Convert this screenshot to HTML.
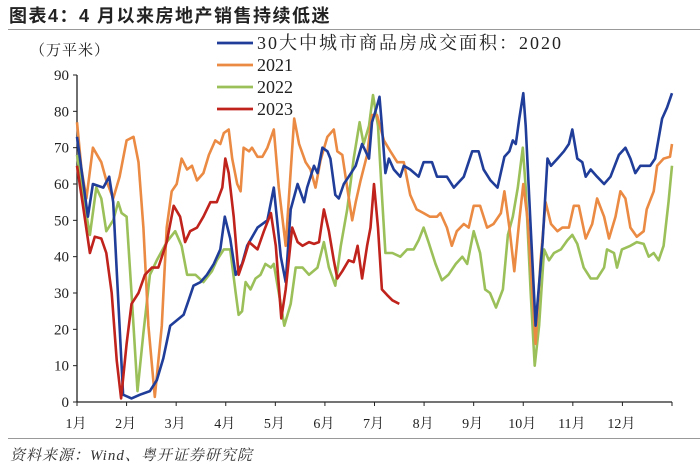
<!DOCTYPE html>
<html><head><meta charset="utf-8"><style>
body{margin:0;background:#fff;}
svg{display:block;}
</style></head><body>
<svg id="chart" width="700" height="472" viewBox="0 0 700 472" xmlns="http://www.w3.org/2000/svg" font-family="'Liberation Serif','Noto Serif CJK SC',serif">
<text x="9" y="22" font-size="18" font-weight="bold" letter-spacing="1.5" font-family="'Liberation Sans','Noto Sans CJK SC',sans-serif" fill="#222">图表4：4 月以来房地产销售持续低迷</text>
<line x1="8" y1="29.5" x2="700" y2="29.5" stroke="#999" stroke-width="1"/>
<text x="30" y="55" font-size="15" letter-spacing="1" fill="#222" font-family="'Liberation Serif','Noto Serif CJK SC',serif">（万平米）</text>
<g id="axes"></g>
<g id="series"></g>
<g id="legend"></g>
<line x1="8" y1="438.5" x2="700" y2="438.5" stroke="#999" stroke-width="1"/>
<text x="10" y="460" font-size="15" letter-spacing="1" font-style="italic" fill="#333" font-family="'Liberation Serif','Noto Serif CJK SC',serif">资料来源：Wind、粤开证券研究院</text>
</svg>
<script>
const yTicks=[0,10,20,30,40,50,60,70,80,90];
const monthLabels=["1月","2月","3月","4月","5月","6月","7月","8月","9月","10月","11月","12月"];
const seriesNames=["30大中城市商品房成交面积：2020","2021","2022","2023"];
const seriesColors=["#1f3d99","#ea8a43","#9bc05a","#c0221c"];
const t2020=[0,0.22,0.32,0.53,0.65,0.73,0.93,1.1,1.27,1.47,1.61,1.74,1.88,2.15,2.25,2.35,2.49,2.62,2.76,2.89,2.98,3.09,3.2,3.33,3.43,3.64,3.84,3.97,4.11,4.21,4.31,4.45,4.58,4.64,4.78,4.85,4.95,5.05,5.11,5.21,5.28,5.38,5.48,5.62,5.75,5.82,5.89,5.95,6.04,6.1,6.15,6.22,6.29,6.39,6.52,6.59,6.72,6.89,6.99,7.16,7.26,7.46,7.6,7.8,7.97,8.1,8.2,8.34,8.48,8.62,8.72,8.79,8.85,8.92,9,9.05,9.15,9.25,9.39,9.49,9.56,9.69,9.82,9.92,9.99,10.09,10.19,10.26,10.36,10.49,10.63,10.76,10.93,11.06,11.16,11.26,11.36,11.56,11.66,11.8,11.9,12];
const v2020=[73,51,60,59,62,55,2,1,2,3,6,12,21,24,28,32,33,35,38,42,51,45,35,38,43,48,50,59,40,33,53,60,55,59,65,63,70,69,67,57,56,60,62,65,71,69,67,77,81,84,76,63,67,64,62,65,64,62,66,66,62,62,59,62,69,69,64,61,59,67.5,69,72,71,78,85,76,48,21,44,67,65,67,69,71,75,67,66,62,64,62,60,62,68,70,67,63,65,65,67,78,81,85];
const t2021=[0,0.09,0.19,0.32,0.49,0.59,0.73,0.86,1,1.14,1.24,1.34,1.44,1.57,1.71,1.81,1.91,2.01,2.11,2.22,2.32,2.42,2.55,2.66,2.79,2.89,2.96,3.06,3.13,3.23,3.3,3.36,3.47,3.53,3.64,3.74,3.84,3.97,4.07,4.21,4.38,4.48,4.61,4.71,4.81,4.91,5.05,5.18,5.25,5.35,5.45,5.55,5.62,5.72,5.85,5.95,6.05,6.19,6.32,6.46,6.59,6.72,6.85,6.99,7.12,7.26,7.33,7.46,7.56,7.66,7.8,7.9,8,8.13,8.27,8.4,8.55,8.62,8.72,8.82,8.92,9,9.09,9.25,9.35,9.45,9.56,9.69,9.79,9.92,10.02,10.12,10.26,10.39,10.49,10.63,10.73,10.86,10.96,11.06,11.16,11.29,11.43,11.49,11.63,11.7,11.83,11.96,12];
const v2021=[77,64,56,70,66,61,56,62,72,73,66,48,21,1.4,21,48,58,60,67,64,65,61,63,68,72,71,74,75,67,60,58,70,69,70,67.5,67.5,70,75,59,43,78,71,66,64,59,66.5,73,75,69,68,59,50,55,61,68,79,79,72,69,66,66,57,53,52,51,51,52,48,43,47,49,48,54,54,48,49,52,58,48,36,50,60,50,16,39,55,49,47,48,48,54,54,45,49,56,51,45,51,58,56,48,45.5,47,53,58,65,67,67.5,71];
const t2022=[0,0.12,0.26,0.39,0.49,0.59,0.73,0.83,0.9,1,1.1,1.22,1.34,1.47,1.61,1.81,1.98,2.11,2.22,2.39,2.55,2.72,2.82,2.96,3.09,3.2,3.26,3.33,3.4,3.5,3.6,3.7,3.8,3.91,3.97,4.07,4.18,4.31,4.41,4.55,4.68,4.85,4.98,5.08,5.21,5.32,5.45,5.58,5.7,5.78,5.89,5.97,6.07,6.15,6.22,6.36,6.52,6.66,6.79,6.89,6.99,7.09,7.23,7.36,7.49,7.64,7.77,7.87,8,8.13,8.23,8.33,8.45,8.59,8.69,8.79,8.89,8.99,9.05,9.15,9.23,9.32,9.42,9.52,9.62,9.76,9.89,9.99,10.09,10.22,10.36,10.49,10.63,10.69,10.83,10.89,10.99,11.16,11.29,11.43,11.53,11.63,11.73,11.83,11.93,12];
const v2022=[68,57,46,59,56,47,50,55,52,51,30,3,19,35,39,44,47,43,35,35,33,36,39,42,42,30,24,25,33,31,34,35,38,37,38,30,21,27,37,37,35,37,44,37,32,43,53,67,77,71,76,84.5,76,57,41,41,40,42,42,44.5,48,44,38,33.5,35,38,40,38,47,41,31,30,26,31,46,51,59,70,59,30,10,21,42,39,41,42,44.5,46,43.5,37,34,34,37,42,41,37,42,43,44,43.5,40,41,39,43,55,65];
const t2023=[0,0.12,0.26,0.36,0.49,0.59,0.7,0.8,0.89,1,1.1,1.24,1.37,1.51,1.64,1.81,1.95,2.08,2.18,2.28,2.42,2.55,2.69,2.82,2.93,2.99,3.06,3.16,3.26,3.36,3.47,3.64,3.77,3.91,4.01,4.12,4.21,4.34,4.45,4.55,4.68,4.78,4.88,4.98,5.08,5.18,5.25,5.35,5.48,5.58,5.66,5.75,5.85,5.92,5.99,6.07,6.15,6.25,6.36,6.5];
const v2023=[65,54,41,45.5,45,41,30,11.5,1,16,27,30,35,37,37,44,54,51,44,47,48,51,55,55,59,67,63,51,35,39,44,42,47,52,43,23,31,48,44,43,44,43.5,44,53,47,39,34,36,39,38.5,43,34,43,48,60,48,31,29.5,28,27];
const tList=[t2020,t2021,t2022,t2023];
const vList=[v2020,v2021,v2022,v2023];

const X0=77,X1=672,Y0=402,Y90=75;
function xs(t){return X0+(X1-X0)*t/12;}
function ys(v){return Y0-(Y0-Y90)*v/90;}
const NS="http://www.w3.org/2000/svg";
function mk(tag,attrs,parent){const e=document.createElementNS(NS,tag);for(const k in attrs)e.setAttribute(k,attrs[k]);parent.appendChild(e);return e;}
const axes=document.getElementById('axes');
let el=mk('line',{x1:X0,y1:Y90,x2:X0,y2:Y0,stroke:'#222','stroke-width':1.3},axes);


el=mk('line',{x1:X0,y1:Y0,x2:X1,y2:Y0,stroke:'#222','stroke-width':1.3},axes);


yTicks.forEach(v=>{
  const tk=mk('line',{x1:X0-4,y1:ys(v),x2:X0,y2:ys(v),stroke:'#222','stroke-width':1},axes);
  
  
  const tx=mk('text',{x:X0-8,y:ys(v)+5,'font-size':15,'text-anchor':'end',fill:'#222'},axes);
  
  
  tx.textContent=v;
});
for(let m=0;m<=12;m++){
  const tk=mk('line',{x1:xs(m),y1:Y0,x2:xs(m),y2:Y0+4,stroke:'#222','stroke-width':1},axes);
  
  
}
monthLabels.forEach((lab,i)=>{
  const tx=mk('text',{x:xs(i)-1,y:428,'font-size':14,'text-anchor':'middle',fill:'#222'},axes);
  
  
  tx.textContent=lab;
});
const sg=document.getElementById('series');
const order=[2,1,0,3];
order.forEach(i=>{
  const d=tList[i].map((t,j)=>(j?'L':'M')+xs(t).toFixed(1)+','+ys(vList[i][j]).toFixed(1)).join('');
  const p=mk('path',{d:d,fill:'none',stroke:seriesColors[i],'stroke-width':2.6,'stroke-linejoin':'round'},sg);
  
  
});
const lg=document.getElementById('legend');
seriesNames.forEach((n,i)=>{
  const y=43+i*22;
  const l=mk('line',{x1:217,y1:y,x2:253,y2:y,stroke:seriesColors[i],'stroke-width':2.8},lg);
  
  
  const tx=mk('text',{x:257,y:y+6,'font-size':18,fill:'#222','letter-spacing':i===0?2:0},lg);
  
  
  tx.textContent=n;
});
</script>
</body></html>
